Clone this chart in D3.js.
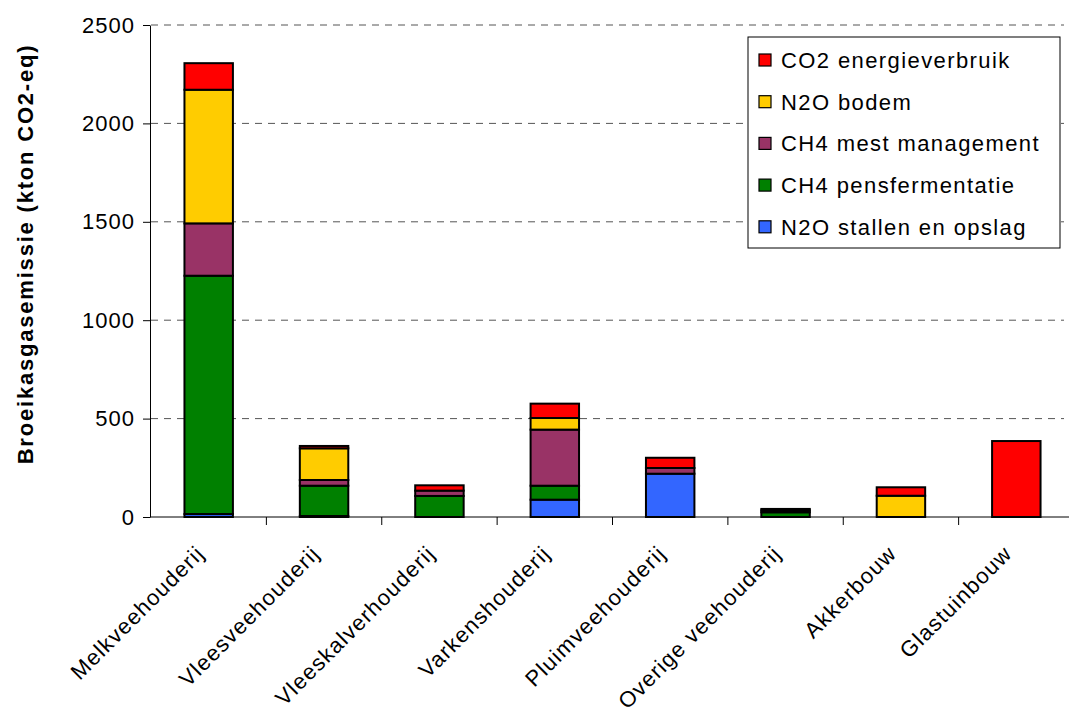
<!DOCTYPE html>
<html>
<head>
<meta charset="utf-8">
<script src="https://cdn.jsdelivr.net/npm/d3@7"></script>
<style>
  body { margin: 0; background: #fff; }
  svg { font-family: Arial, "Liberation Sans", sans-serif; }
</style>
</head>
<body>
<svg id="chart" width="1069" height="716"></svg>
<script>
// categories and series (kton CO2-eq)
var categories = ["Melkveehouderij", "Vleesveehouderij", "Vleeskalverhouderij", "Varkenshouderij",
                  "Pluimveehouderij", "Overige veehouderij", "Akkerbouw", "Glastuinbouw"];
var seriesNames = ["N2O stallen en opslag", "CH4 pensfermentatie", "CH4 mest management",
                   "N2O bodem", "CO2 energieverbruik"];
var n2oStallen   = [15,   5,   0,   88, 220,  0,   0,   0];
var ch4Pens      = [1211, 154, 107, 71,  0,  24,   0,   0];
var ch4Mest      = [266,  29,  27, 285, 29,  10,   0,   0];
var n2oBodem     = [679, 161,   0,  59,  0,   0, 108,   0];
var co2Energie   = [135,  12,  27,  73, 52,   7,  43, 386];
var colors = ["#3366ff", "#008000", "#993366", "#ffcc00", "#ff0000"];
var yTicks = [0, 500, 1000, 1500, 2000, 2500];

var rows = categories.map(function(c, i) {
    return {cat: c, s0: n2oStallen[i], s1: ch4Pens[i], s2: ch4Mest[i], s3: n2oBodem[i], s4: co2Energie[i]};
});
var stack = d3.stack().keys(["s0", "s1", "s2", "s3", "s4"])(rows);

var svg = d3.select("#chart");
var plotL = 151, plotR = 1074, plotT = 25, plotB = 517;

var x = d3.scaleBand().domain(categories).range([plotL, plotR]).paddingInner(0.58).paddingOuter(0.29);
var xb = d3.scaleBand().domain(categories).range([plotL, plotR]);
var y = d3.scaleLinear().domain([0, 2500]).range([plotB, plotT]);

// gridlines
svg.append("g").selectAll("line")
    .data(yTicks.filter(function(d) { return d > 0; }))
    .enter().append("line")
    .attr("x1", plotL).attr("x2", 1064)
    .attr("y1", function(d) { return y(d); })
    .attr("y2", function(d) { return y(d); })
    .attr("stroke", "#555")
    .attr("stroke-width", 1)
    .attr("stroke-dasharray", "7,6");

// bars
svg.append("g").selectAll("g")
    .data(stack)
    .enter().append("g")
    .attr("fill", function(d, i) { return colors[i]; })
    .selectAll("rect")
    .data(function(d) { return d.filter(function(p) { return p[1] - p[0] > 0; }); })
    .enter().append("rect")
    .attr("x", function(d) { return x(d.data.cat); })
    .attr("width", x.bandwidth())
    .attr("y", function(d) { return y(d[1]); })
    .attr("height", function(d) { return y(d[0]) - y(d[1]); })
    .attr("stroke", "#000")
    .attr("stroke-width", 2);

// y axis
var yAxis = svg.append("g")
    .attr("transform", "translate(" + (plotL - 1) + ",0)")
    .call(d3.axisLeft(y).tickValues(yTicks).tickFormat(d3.format("d")).tickSize(7).tickSizeOuter(0));
yAxis.selectAll("text").attr("font-size", 22).attr("fill", "#000").attr("dx", "-5px")
    .attr("letter-spacing", "1px")
    .attr("font-family", "Arial, 'Liberation Sans', sans-serif");
yAxis.selectAll("line, path").attr("stroke", "#000");

// x axis
var xAxis = svg.append("g")
    .attr("transform", "translate(0," + plotB + ")");
xAxis.append("line").attr("x1", plotL - 1).attr("x2", 1069).attr("stroke", "#000");
xAxis.selectAll("line.tk")
    .data(categories)
    .enter().append("line")
    .attr("class", "tk")
    .attr("x1", function(d) { return xb(d) + xb.bandwidth(); })
    .attr("x2", function(d) { return xb(d) + xb.bandwidth(); })
    .attr("y1", 0).attr("y2", 8)
    .attr("stroke", "#000");
xAxis.selectAll("text")
    .data(categories)
    .enter().append("text")
    .attr("transform", function(d) {
        return "translate(" + (xb(d) + xb.bandwidth() / 2 - 3) + ",38) rotate(-45)";
    })
    .attr("text-anchor", "end")
    .attr("font-size", 22)
    .attr("letter-spacing", "1.2px")
    .attr("fill", "#000")
    .text(function(d) { return d; });

// y title
svg.append("text")
    .attr("transform", "translate(33,254) rotate(-90)")
    .attr("text-anchor", "middle")
    .attr("font-size", 22)
    .attr("font-weight", "bold")
    .attr("letter-spacing", "1.8px")
    .text("Broeikasgasemissie (kton CO2-eq)");

// legend
var legend = svg.append("g").attr("transform", "translate(748,37)");
legend.append("rect").attr("width", 312).attr("height", 211)
    .attr("fill", "#fff").attr("stroke", "#000").attr("stroke-width", 1);
var order = [4, 3, 2, 1, 0];
var item = legend.selectAll("g.it")
    .data(order)
    .enter().append("g")
    .attr("class", "it")
    .attr("transform", function(d, i) { return "translate(0," + (23 + i * 41.7) + ")"; });
item.append("rect")
    .attr("x", 11).attr("y", -6).attr("width", 12).attr("height", 12)
    .attr("fill", function(d) { return colors[d]; })
    .attr("stroke", "#000").attr("stroke-width", 1.2);
item.append("text")
    .attr("x", 33).attr("y", 8)
    .attr("font-size", 22)
    .attr("letter-spacing", "1.4px")
    .text(function(d) { return seriesNames[d]; });
</script>
</body>
</html>
